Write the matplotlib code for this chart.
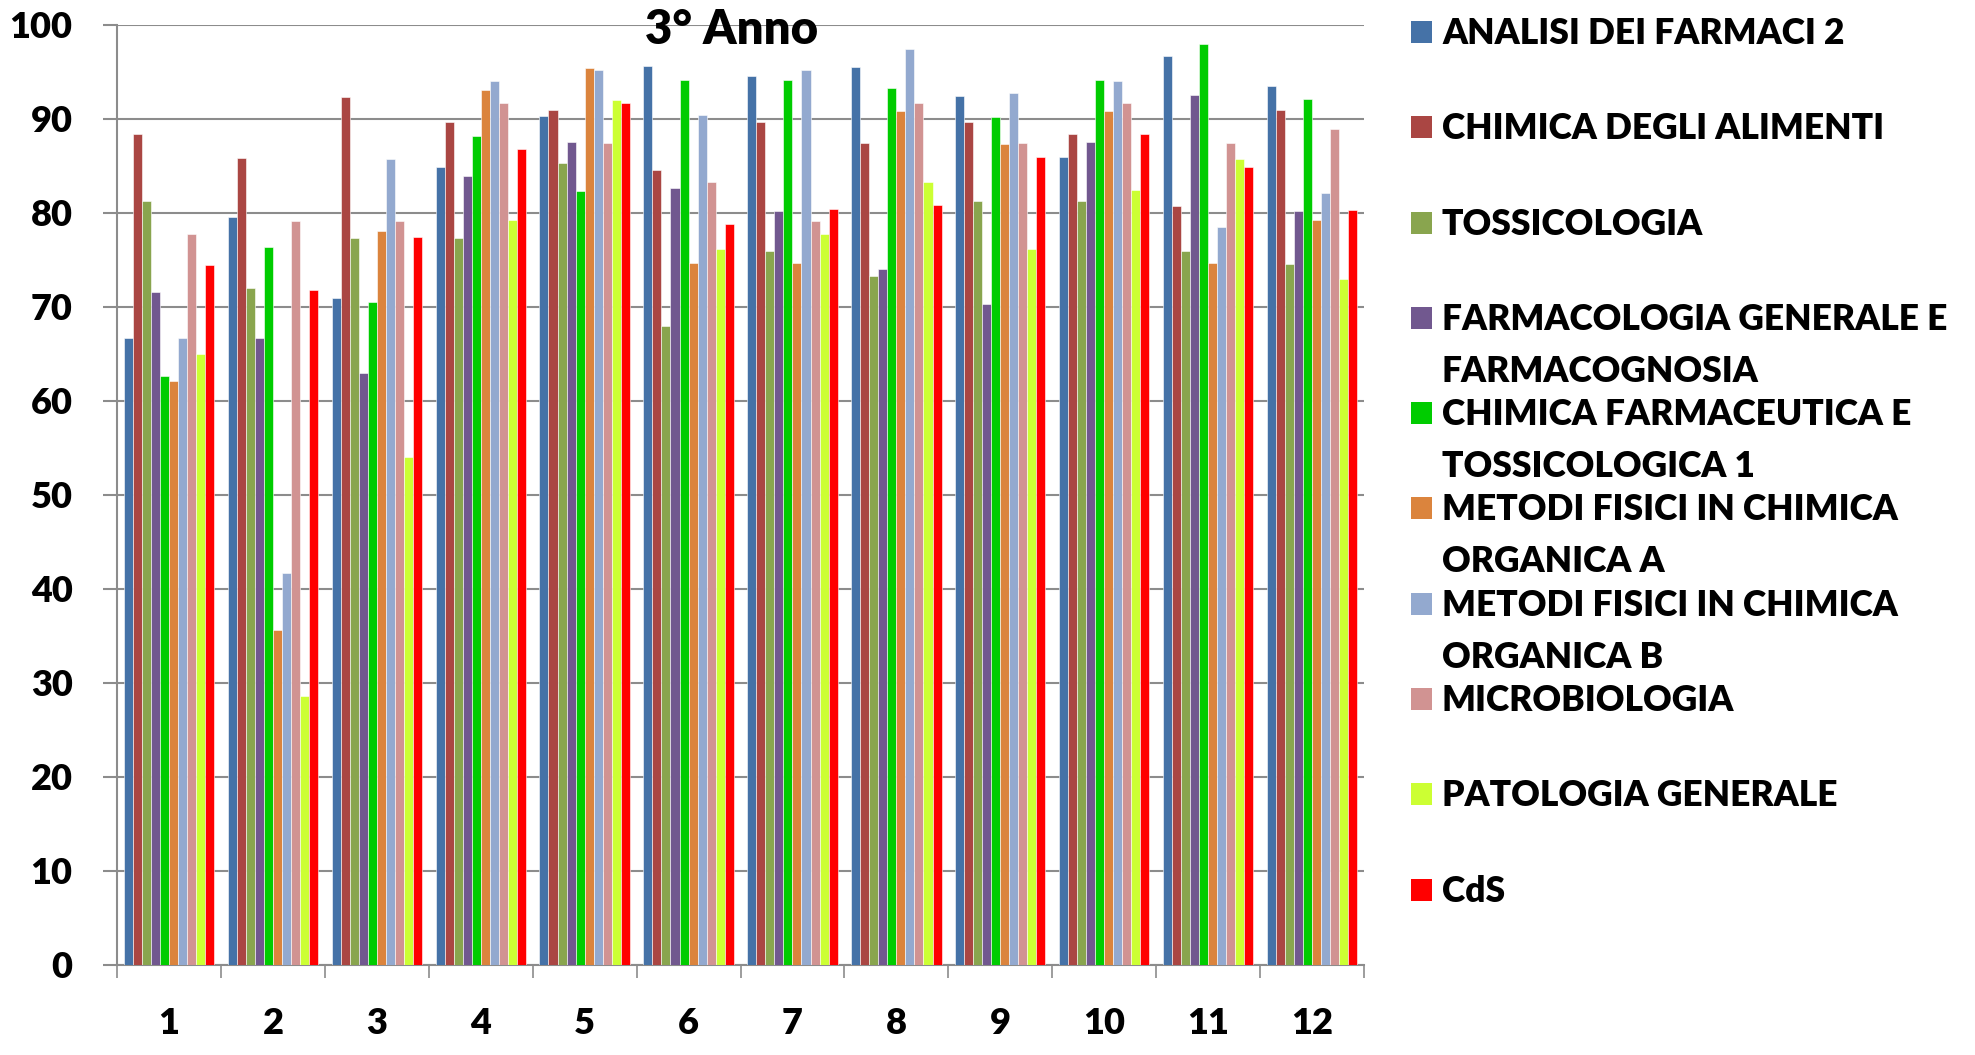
import numpy as np
import matplotlib
matplotlib.use('Agg')
import matplotlib.pyplot as plt
from matplotlib.patches import Rectangle

plt.rcParams['font.family'] = ['Lato', 'DejaVu Sans']
plt.rcParams['font.weight'] = 'heavy'

# dati (percentuali per domanda 1..12)
domande = [str(i) for i in range(1, 13)]
analisi_farmaci_2 = [66.7, 79.6, 71.0, 84.9, 90.3, 95.6, 94.6, 95.5, 92.4, 86.0, 96.7, 93.5]
chimica_alimenti = [88.4, 85.9, 92.3, 89.7, 91.0, 84.6, 89.7, 87.5, 89.7, 88.4, 80.7, 91.0]
tossicologia = [81.3, 72.0, 77.3, 77.3, 85.3, 68.0, 76.0, 73.3, 81.3, 81.3, 76.0, 74.6]
farmacologia = [71.6, 66.7, 63.0, 83.9, 87.6, 82.7, 80.2, 74.0, 70.3, 87.6, 92.6, 80.2]
chim_farmaceutica = [62.7, 76.4, 70.5, 88.2, 82.3, 94.1, 94.1, 93.3, 90.2, 94.1, 98.0, 92.1]
metodi_a = [62.1, 35.6, 78.1, 93.1, 95.4, 74.7, 74.7, 90.8, 87.3, 90.8, 74.7, 79.3]
metodi_b = [66.7, 41.7, 85.7, 94.0, 95.2, 90.4, 95.2, 97.5, 92.8, 94.0, 78.5, 82.1]
microbiologia = [77.8, 79.1, 79.1, 91.7, 87.5, 83.3, 79.1, 91.7, 87.5, 91.7, 87.5, 88.9]
patologia = [65.0, 28.6, 54.0, 79.3, 92.0, 76.2, 77.8, 83.3, 76.2, 82.5, 85.7, 73.0]
cds = [74.5, 71.8, 77.4, 86.8, 91.7, 78.8, 80.4, 80.9, 86.0, 88.4, 84.9, 80.3]

serie = [analisi_farmaci_2, chimica_alimenti, tossicologia, farmacologia, chim_farmaceutica,
         metodi_a, metodi_b, microbiologia, patologia, cds]
nomi = ['ANALISI DEI FARMACI 2', 'CHIMICA DEGLI ALIMENTI', 'TOSSICOLOGIA',
        'FARMACOLOGIA GENERALE E\nFARMACOGNOSIA', 'CHIMICA FARMACEUTICA E\nTOSSICOLOGICA 1',
        'METODI FISICI IN CHIMICA\nORGANICA A', 'METODI FISICI IN CHIMICA\nORGANICA B',
        'MICROBIOLOGIA', 'PATOLOGIA GENERALE', 'CdS']
colori = ['#4572A7', '#AA4643', '#89A54E', '#71588F', '#00CC00',
          '#DB843D', '#93A9CF', '#D19392', '#CCFF33', '#FF0000']

W, H = 1975, 1055
fig = plt.figure(figsize=(W / 100, H / 100), dpi=100)
ax = fig.add_axes([117 / W, 1 - 965 / H, 1247 / W, 940 / H])

x = np.arange(len(domande))
bw = 0.087
for i, (vals, col) in enumerate(zip(serie, colori)):
    ax.bar(x + (i - 4.5) * bw, vals, width=bw, color=col, edgecolor='white', linewidth=0.4, zorder=3)

grigio = '#8C8C8C'
ax.set_ylim(0, 100)
ax.set_xlim(-0.5, len(domande) - 0.5)
ax.set_yticks(np.arange(0, 101, 10))
ax.yaxis.grid(True, color=grigio, linewidth=1.5, zorder=0)
ax.set_axisbelow(True)

# tick maggiori ai bordi dei gruppi, etichette al centro
ax.set_xticks(np.arange(len(domande) + 1) - 0.5)
ax.set_xticklabels([])
ax.set_xticks(x, minor=True)
ax.set_xticklabels(domande, minor=True)
ax.tick_params(axis='x', which='major', length=9.5, width=1.2, color=grigio, direction='out')
ax.tick_params(axis='x', which='minor', length=0, pad=30, labelsize=26)
ax.tick_params(axis='y', length=10, width=1.5, color=grigio, pad=22, labelsize=26)

for s in ['top', 'right']:
    ax.spines[s].set_visible(False)
for s in ['left', 'bottom']:
    ax.spines[s].set_color(grigio)
    ax.spines[s].set_linewidth(1.5)

ax.text((732 - 117) / 1247, (965 - 30) / 940, '3° Anno', transform=ax.transAxes,
        ha='center', va='center', fontsize=34, zorder=5)

# legenda costruita a mano (stile Excel)
passo = 95.3
for i, (nome, col) in enumerate(zip(nomi, colori)):
    yc = 32 + i * passo
    fig.add_artist(Rectangle((1411 / W, 1 - (yc + 11) / H), 21 / W, 22 / H,
                             transform=fig.transFigure, facecolor=col, edgecolor='none'))
    for k, riga in enumerate(nome.split('\n')):
        fig.text(1442 / W, 1 - (yc + 12 + k * 52) / H, riga, ha='left', va='baseline',
                 fontsize=25.5)

fig.savefig('out.png', dpi=100)
